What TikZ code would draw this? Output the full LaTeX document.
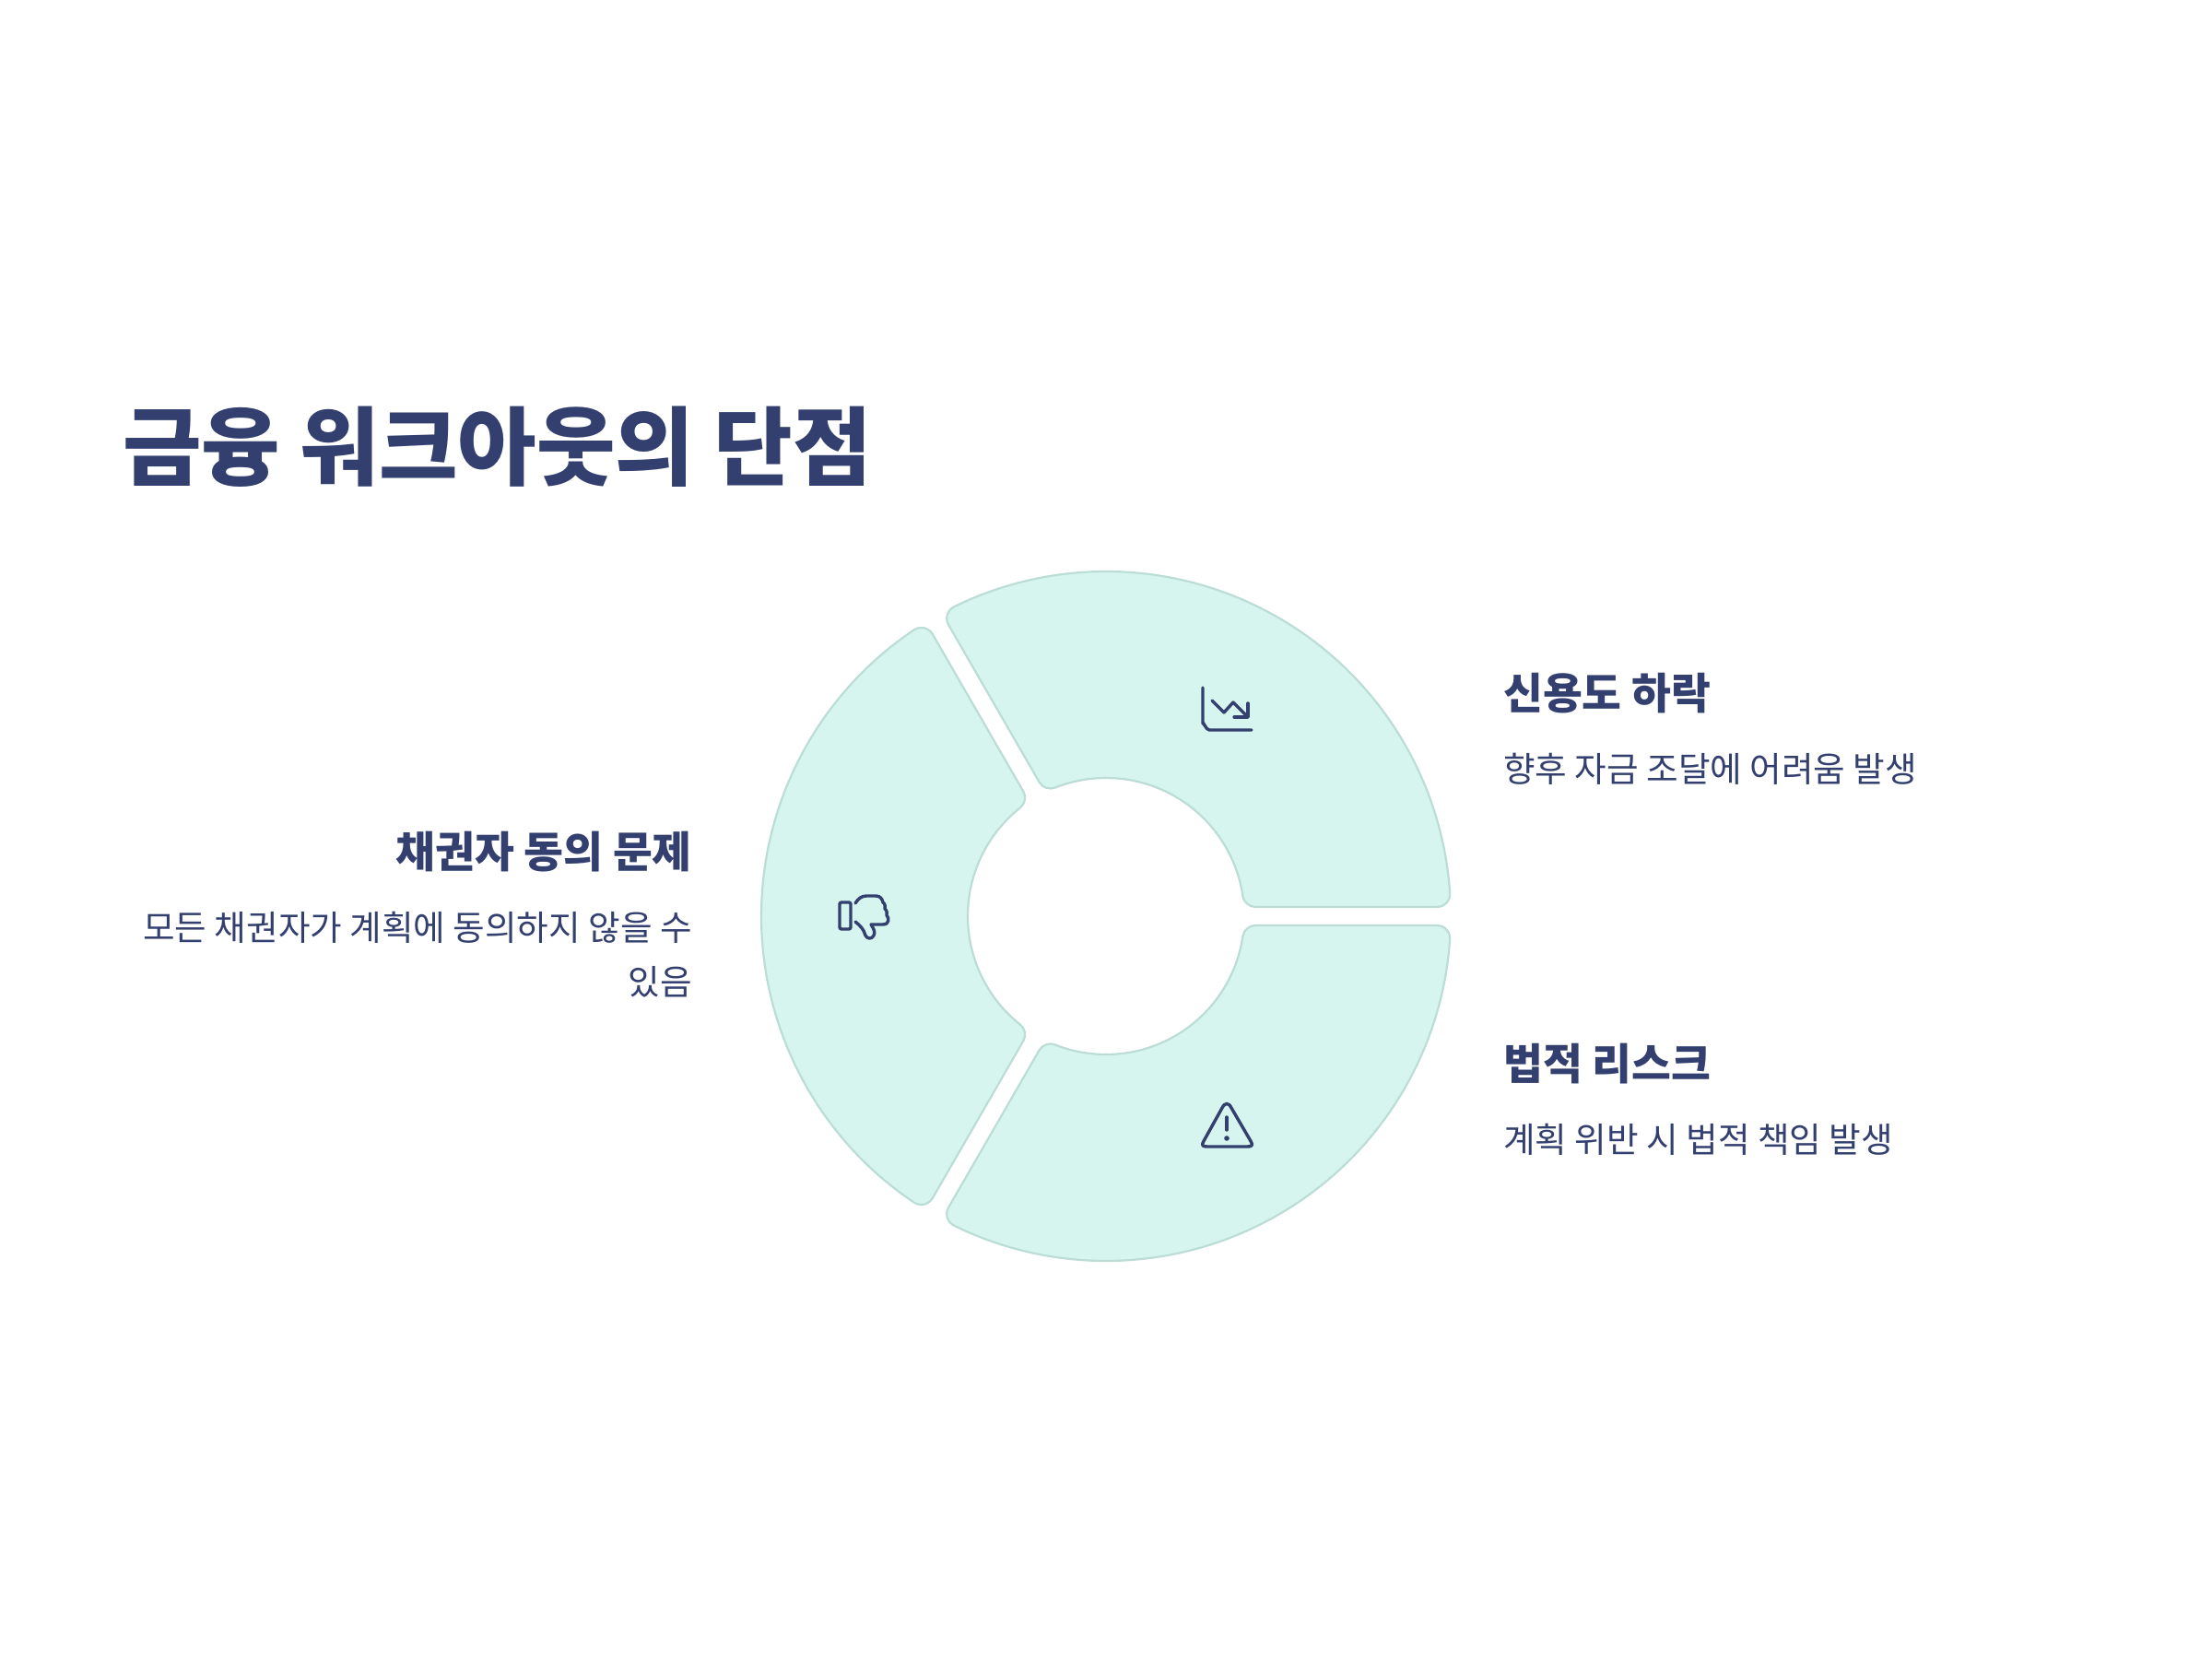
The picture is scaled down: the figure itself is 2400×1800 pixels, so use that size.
\documentclass[tikz,border=0pt]{standalone}
\usepackage{fontspec}
\setmainfont{Noto Sans CJK KR}
\usetikzlibrary{calc}
\definecolor{ink}{HTML}{33406F}
\definecolor{segfill}{HTML}{D5F5EE}
\definecolor{segline}{HTML}{BBDDD5}
\tikzset{
  segment/.style={fill=segfill,draw=segline,line width=2.2pt,line join=round},
  icon/.style={draw=ink,line width=3.4pt,line cap=round,line join=round},
  titletext/.style={text=ink,inner sep=0pt,font=\fontsize{93}{110}\selectfont\bfseries,anchor=base west},
  headtext/.style={text=ink,inner sep=0pt,font=\fontsize{46.6}{58}\selectfont\bfseries},
  bodytext/.style={text=ink,inner sep=0pt,font=\fontsize{37.6}{59}\selectfont},
}
\def\Ro{374}
\def\Ri{150}
\def\gp{10}
\def\fr{14}
\def\pho{3.823}
\def\phin{8.414}
\def\alo{359.2}
\def\ali{162.2}
\newcommand{\ringseg}[1]{%
  \begin{scope}[shift={(1200,806)},rotate=#1]
    \path[segment] (\ali pt,\gp pt) -- (\alo pt,\gp pt)
      arc[start angle=-90,end angle=\pho,radius=\fr pt]
      arc[start angle=\pho,end angle=120-\pho,radius=\Ro pt]
      arc[start angle=120-\pho,end angle=210,radius=\fr pt]
      -- ($(120:\ali pt)+(30:\gp pt)$)
      arc[start angle=210,end angle=300-\phin,radius=\fr pt]
      arc[start angle=120-\phin,end angle=\phin,radius=\Ri pt]
      arc[start angle=180+\phin,end angle=270,radius=\fr pt]
      -- cycle;
  \end{scope}}
\begin{document}
\begin{tikzpicture}[x=1pt,y=1pt]
\useasboundingbox (0,0) rectangle (2400,1800);
\ringseg{0}
\ringseg{120}
\ringseg{240}
\node[titletext] (title) at (133,1800-520) {금융 워크아웃의 단점};
\node[headtext,anchor=base west] (h1) at (1631,1800-769.5) {신용도 하락};
\node[bodytext,anchor=base west] (b1) at (1631,1800-848.5) {향후 자금 조달에 어려움 발생};
\node[headtext,anchor=base west] (h2) at (1631,1800-1171.5) {법적 리스크};
\node[bodytext,anchor=base west] (b2) at (1631,1800-1250.5) {계획 위반 시 법적 책임 발생};
\node[headtext,anchor=base east] (h3) at (751,1800-941.5) {채권자 동의 문제};
\node[bodytext,anchor=base east] (b3) at (751,1800-1020.5) {모든 채권자가 계획에 동의하지 않을 수};
\node[bodytext,anchor=base east] (b4) at (751,1800-1079.5) {있음};
\begin{scope}[yscale=-1,shift={(0,-1800)}]
% chart icon
\draw[icon] (1305,746) -- (1305,785) to[out=-90,in=180] (1312,792) -- (1358,792);
\draw[icon] (1315,760) -- (1328,773) -- (1338,762) -- (1354,778);
\draw[icon] (1354,763) -- (1354,778) -- (1339,778);
% warning icon
\draw[icon] (1326,1202) .. controls (1329,1196) and (1333,1196) .. (1336,1202)
  -- (1357,1238) .. controls (1360,1243) and (1358,1244) .. (1353,1244)
  -- (1310,1244) .. controls (1305,1244) and (1303,1243) .. (1306,1238) -- cycle;
\draw[icon] (1331,1212) -- (1331,1226);
\fill[ink] (1331,1235) circle[radius=2.8pt];
% thumb icon
\draw[icon,rounded corners=2pt] (911,979) rectangle (923,1008);
\draw[icon] (928,980) .. controls (931,975) and (935,972) .. (940,972) -- (950,972)
  .. controls (955,972) and (957,975) .. (958,979)
  .. controls (961,981) and (960,984) .. (960,986)
  .. controls (963,988) and (962,991) .. (962,993)
  .. controls (965,996) and (965,1003) .. (958,1003) -- (945,1003)
  .. controls (948,1008) and (950,1011) .. (948,1015)
  .. controls (946,1019) and (941,1019) .. (939,1015)
  .. controls (937,1008) and (934,1005) .. (928,1000);
\end{scope}
\end{tikzpicture}
\end{document}
